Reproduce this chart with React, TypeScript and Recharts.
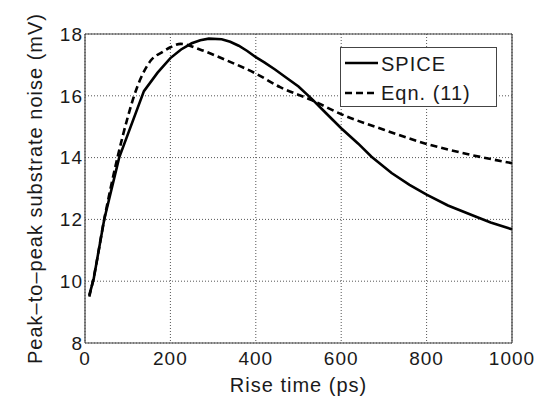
import React from 'react'
import { LineChart, Line, XAxis, YAxis, CartesianGrid, ReferenceLine, Legend, Label } from 'recharts'

// SPICE simulation (solid)
const spiceTime = [10, 20, 45, 80, 138, 170, 200, 225, 250, 270, 290, 320, 340, 360, 380, 400, 420, 445, 470, 500, 531, 560, 600, 640, 671, 718, 760, 800, 850, 913, 950, 1000]
const spiceNoise = [9.55, 10.05, 12.0, 14.0, 16.15, 16.75, 17.22, 17.5, 17.7, 17.8, 17.85, 17.83, 17.75, 17.62, 17.45, 17.25, 17.08, 16.85, 16.6, 16.3, 15.9, 15.5, 14.95, 14.45, 14.03, 13.5, 13.12, 12.8, 12.45, 12.1, 11.9, 11.68]

// Eqn. (11) model (dashed)
const eqnTime = [10, 20, 45, 76, 100, 115, 154, 183, 200, 224, 269, 326, 400, 457, 531, 601, 700, 796, 900, 1000]
const eqnNoise = [9.5, 10.1, 12.0, 14.0, 15.3, 16.0, 17.14, 17.43, 17.57, 17.68, 17.5, 17.18, 16.72, 16.28, 15.86, 15.4, 14.9, 14.46, 14.1, 13.82]

const timeTicks = [0, 200, 400, 600, 800, 1000]
const noiseTicks = [8, 10, 12, 14, 16, 18]
const seriesNames = ['SPICE', 'Eqn. (11)']

const FONT = '"Liberation Sans", Arial, sans-serif'
const INK = '#1a1a1a'

const spiceData = spiceTime.map((t, i) => ({ t, v: spiceNoise[i] }))
const eqnData = eqnTime.map((t, i) => ({ t, v: eqnNoise[i] }))

const XTick = (props: any) => (
  <text x={props.x} y={props.y} dy="0.71em" textAnchor="middle" fontFamily={FONT} fontSize={19} letterSpacing={1} fill={INK}>
    {props.payload.value}
  </text>
)

const YTick = (props: any) => (
  <text x={props.x} y={props.y} dy="0.355em" textAnchor="end" fontFamily={FONT} fontSize={19} letterSpacing={1} fill={INK}>
    {props.payload.value}
  </text>
)

const LegendBox = () => (
  <div style={{ width: 157, height: 60, border: '1px solid #444', background: '#fff', boxSizing: 'border-box' }}>
    <svg width={155} height={58} style={{ display: 'block' }}>
      <line x1={4} x2={37} y1={15} y2={15} stroke="#000" strokeWidth={2.6} />
      <text x={40} y={23} fontFamily={FONT} fontSize={20} letterSpacing={1} fill={INK}>{seriesNames[0]}</text>
      <line x1={4} x2={37} y1={45} y2={45} stroke="#000" strokeWidth={2.6} strokeDasharray="7 4" />
      <text x={40} y={52} fontFamily={FONT} fontSize={20} letterSpacing={1} fill={INK}>{seriesNames[1]}</text>
    </svg>
  </div>
)

export default function App() {
  return (
    <div style={{ position: 'absolute', left: 0, top: 0, width: 550, height: 396, background: '#fff' }}>
      <LineChart width={550} height={396} margin={{ top: 34, right: 38, left: 0, bottom: 0 }}>
        <CartesianGrid stroke="#555" strokeDasharray="1 2" strokeWidth={1} />
        <XAxis
          dataKey="t"
          type="number"
          domain={[0, 1000]}
          ticks={timeTicks}
          height={53}
          tickSize={0}
          tickMargin={9}
          tick={<XTick />}
          stroke="#444"
          strokeWidth={1.2}
          allowDuplicatedCategory={false}
        >
          <Label
            content={(p: any) => (
              <text
                x={p.viewBox.x + p.viewBox.width / 2}
                y={p.viewBox.y + 49}
                textAnchor="middle"
                fontFamily={FONT}
                fontSize={20}
                letterSpacing={1}
                fill={INK}
              >
                Rise time (ps)
              </text>
            )}
          />
        </XAxis>
        <YAxis
          type="number"
          domain={[8, 18]}
          ticks={noiseTicks}
          width={85}
          tickSize={0}
          tickMargin={2}
          tick={<YTick />}
          stroke="#444"
          strokeWidth={1.2}
        >
          <Label
            content={(p: any) => {
              const cx = 35
              const cy = p.viewBox.y + p.viewBox.height / 2
              return (
                <text
                  x={cx}
                  y={cy}
                  transform={`rotate(-90 ${cx} ${cy})`}
                  textAnchor="middle"
                  dominantBaseline="central"
                  fontFamily={FONT}
                  fontSize={20}
                  letterSpacing={1}
                  fill={INK}
                >
                  Peak–to–peak substrate noise (mV)
                </text>
              )
            }}
          />
        </YAxis>
        <ReferenceLine y={18} stroke="#444" strokeWidth={1.2} />
        <ReferenceLine x={1000} stroke="#444" strokeWidth={1.2} />
        <Line
          data={spiceData}
          dataKey="v"
          name={seriesNames[0]}
          type="linear"
          stroke="#000"
          strokeWidth={2.6}
          dot={false}
          isAnimationActive={false}
        />
        <Line
          data={eqnData}
          dataKey="v"
          name={seriesNames[1]}
          type="monotone"
          stroke="#000"
          strokeWidth={2.6}
          strokeDasharray="7 4"
          dot={false}
          isAnimationActive={false}
        />
        <Legend
          layout="horizontal"
          verticalAlign="middle"
          align="center"
          content={<LegendBox />}
          wrapperStyle={{ position: 'absolute', left: 340, top: 47, width: 157, height: 60 }}
        />
      </LineChart>
    </div>
  )
}
